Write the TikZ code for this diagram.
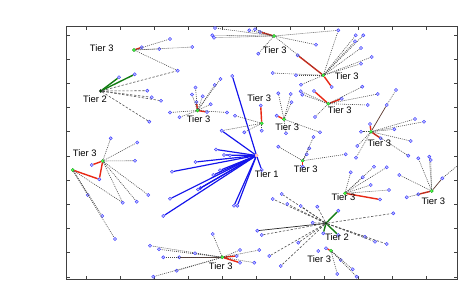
\documentclass[tikz,border=0pt]{standalone}
\usepackage{fontspec}
\setmainfont{Liberation Sans}
\usetikzlibrary{arrows}
\usetikzlibrary{shapes}
\usetikzlibrary{scopes}

\definecolor{tierred}{RGB}{232,40,20}
\definecolor{tiergreen}{RGB}{20,125,20}
\definecolor{tierblue}{RGB}{20,20,235}
\definecolor{tierdark}{RGB}{90,55,45}

\begin{document}
\begin{tikzpicture}[x=0.3mm,y=-0.3mm,
	pt/.style={circle,draw=blue!80,fill=blue!25,line width=0.35pt,inner sep=0pt,minimum size=2.8pt},
	hub/.style={circle,draw=green!55!black,fill=green!70,line width=0.2pt,inner sep=0pt,minimum size=2.8pt},
	hubtwo/.style={circle,draw=black!80,fill=green!30!black,line width=0.2pt,inner sep=0pt,minimum size=2.8pt},
	hubone/.style={circle,draw=red!45,fill=red!20,line width=0.2pt,inner sep=0pt,minimum size=3pt},
	lnk/.style={dash pattern=on 0.8pt off 0.9pt,black!72,line width=0.5pt},
	lnkd/.style={dash pattern=on 2pt off 1.4pt,black!70,line width=0.5pt},
	redl/.style={tierred,line width=1.2pt},
	grnl/.style={tiergreen,line width=1.2pt},
	bluel/.style={tierblue,line width=1pt},
	darkl/.style={tierdark,line width=0.6pt},
	axis/.style={black!75,line width=0.6pt},
	lbl/.style={inner sep=0pt,font=\fontsize{8}{9}\selectfont}]
	\useasboundingbox (0,0) rectangle (463,284);
	% axes box with inward ticks
	\draw[axis] (66,26) rectangle (457,279);
	\foreach \k in {0,...,10} {
		\draw[axis] ({86.5+34*\k},279) -- ++(0,-3.5) ({86.5+34*\k},26) -- ++(0,3.5);
		\draw[axis] (66,{35+24.2*\k}) -- ++(3.5,0) (457,{35+24.2*\k}) -- ++(-3.5,0);
	}

	% tier 3, top left
	\node[hub] (hA) at (134,50) {};
	\node[pt] (a0) at (141.7,47.3) {};
	\draw[redl] (hA) -- (a0);
	\foreach \px/\py [count=\i] in {170/39,159.3/49,192.3/47,177.7/70.7}
		{ \node[pt] (a\i) at (\px,\py) {}; \draw[lnk] (hA) -- (a\i); }
	\node[lbl] (tA) at (101.7,48.3) {Tier 3};

	% tier 2, left
	\node[hubtwo] (hB) at (100.7,91) {};
	\foreach \px/\py [count=\i] in {119/77.3,134.7/74.3}
		{ \node[pt] (bg\i) at (\px,\py) {}; \draw[grnl] (hB) -- (bg\i); }
	\foreach \px/\py [count=\i] in {147.3/90.7,151.7/97.3,161/100.7,149.3/121.7}
		{ \node[pt] (b\i) at (\px,\py) {}; \draw[lnkd] (hB) -- (b\i); }
	\draw[lnkd] (hB) -- (a4);
	\node[lbl] (tB) at (95,99.3) {Tier 2};

	% tier 3, middle left
	\node[hub] (hC) at (197.5,110.5) {};
	\node[pt] (cr1) at (196.5,102) {};
	\node[pt] (cr2) at (207,112) {};
	\draw[redl] (cr1) -- (hC) -- (cr2);
	\foreach \px/\py [count=\i] in {195.5/87.5,192/94.5,202.7/96.3,214.7/85,220.5/79,
			210.7/104.2,227/112.5,170/112.5,179.5/117.3}
		{ \node[pt] (c\i) at (\px,\py) {}; \draw[lnk] (hC) -- (c\i); }
	\node[lbl] (tC) at (198.6,119.2) {Tier 3};

	% tier 1
	\node[hubone] (hE) at (256.5,155.5) {};
	\foreach \px/\py [count=\i] in {232.3/76,221.7/130.7,216/149.5,224/155,230/155.5,
			195.5/162,172/171.7,220/170.3,213.3/175,200.5/188,198/189.5,170/198.8,
			163.3/216,234/205.8,237.3/205.8,261.7/170}
		{ \node[pt] (e\i) at (\px,\py) {}; \draw[bluel] (hE) -- (e\i); }
	\node[lbl] (tE) at (266.7,174.3) {Tier 1};

	% tier 3, next to tier 1
	\node[hub] (hD) at (261.7,123.3) {};
	\node[pt] (dr) at (260.7,105.5) {};
	\draw[redl] (hD) -- (dr);
	\foreach \px/\py [count=\i] in {235/115.7,244.3/132.3,261.7/130.7}
		{ \node[pt] (d\i) at (\px,\py) {}; \draw[lnk] (hD) -- (d\i); }
	\draw[lnk] (hD) -- (e2);
	\node[lbl] (tD) at (259.3,98) {Tier 3};

	% tier 3, far left
	\node[hub] (hF) at (102.7,161) {};
	\node[hub] (hFb) at (72.7,170) {};
	\node[pt] (fr1) at (91.7,165) {};
	\node[pt] (fr2) at (99.3,179.3) {};
	\draw[redl] (fr1) -- (hF) -- (fr2) -- (hFb);
	\foreach \px/\py [count=\i] in {110.7/138.3,137.3/142.5,135/160.7,148.3/195,136.7/201.7,122.7/202.7}
		{ \node[pt] (f\i) at (\px,\py) {}; \draw[lnk] (hF) -- (f\i); }
	\foreach \px/\py [count=\i] in {87.7/195,102.3/216,115/239}
		{ \node[pt] (fb\i) at (\px,\py) {}; \draw[lnk] (hFb) -- (fb\i); }
	\draw[lnk] (hFb) -- (f6);
	\node[lbl] (tF) at (84.7,153.3) {Tier 3};

	% tier 3, bottom
	\node[hub] (hG) at (222.3,257.3) {};
	\node[pt] (gr1) at (236.7,256) {};
	\node[pt] (gr2) at (240,262.7) {};
	\draw[redl] (hG) -- (gr1) (hG) -- (gr2);
	\node[pt] (gk) at (179.3,257.3) {};
	\draw[darkl] (hG) -- (gk);
	\foreach \px/\py [count=\i] in {150/245.7,159/249.3,163.3/257.3,212.7/234,176.7/270.7,
			153.3/276.7,195/253.3,240/250,259.3/250,254.3/262.7}
		{ \node[pt] (g\i) at (\px,\py) {}; \draw[lnk] (hG) -- (g\i); }
	\node[lbl] (tG) at (220.8,265.7) {Tier 3};

	% tier 3, top middle
	\node[hub] (hH) at (274,36) {};
	\node[pt] (hr) at (260,32) {};
	\draw[redl] (hH) -- (hr);
	\foreach \px/\py [count=\i] in {215/28,212.3/35.3,214/37.7,249.3/30.3,255/29.3,
			338.3/30.3,316/44.7,258.3/53.7}
		{ \node[pt] (h\i) at (\px,\py) {}; \draw[lnk] (hH) -- (h\i); }
	\node[lbl] (tH) at (274.7,50.3) {Tier 3};

	% tier 3, top right
	\node[hub] (hI) at (323.3,75.3) {};
	\node[pt] (ir1) at (297.7,55.3) {};
	\node[pt] (ir2) at (331.7,87) {};
	\draw[redl] (ir1) -- (hI) -- (ir2);
	\foreach \px/\py [count=\i] in {355.7/35.3,363.3/35.3,355/41.3,361/48,371.7/57,
			361/63.7,272.7/73,296/75.3,301/84.7}
		{ \node[pt] (i\i) at (\px,\py) {}; \draw[lnk] (hI) -- (i\i); }
	\draw[lnk] (hI) -- (hH) (hI) -- (h6);
	\node[lbl] (tI) at (346.7,76.3) {Tier 3};

	\node[hub] (hJ) at (328.3,103.7) {};
	\node[pt] (jr1) at (314,91) {};
	\node[pt] (jr2) at (341.7,98.7) {};
	\draw[redl] (jr1) -- (hJ) -- (jr2);
	\foreach \px/\py [count=\i] in {300.7/91.3,302.3/94.7,315/117,362.3/86.7,377.7/94,367.7/105}
		{ \node[pt] (j\i) at (\px,\py) {}; \draw[lnk] (hJ) -- (j\i); }
	\node[lbl] (tJ) at (339.7,110.3) {Tier 3};

	\node[hub] (hK) at (284,119.3) {};
	\node[pt] (kr) at (276.7,115.7) {};
	\draw[redl] (hK) -- (kr);
	\foreach \px/\py [count=\i] in {278.3/93.3,290.7/94,291.5/102.3,286/133.3,320/132.3}
		{ \node[pt] (k\i) at (\px,\py) {}; \draw[lnk] (hK) -- (k\i); }
	\node[lbl] (tK) at (287.2,126.7) {Tier 3};

	% tier 3, right side
	\node[hub] (hL) at (371,131.7) {};
	\node[pt] (lr1) at (370,124) {};
	\node[pt] (lr2) at (380.7,138.3) {};
	\draw[redl] (lr1) -- (hL) -- (lr2);
	\node[pt] (lk1) at (386.7,105) {};
	\node[pt] (lk2) at (396,90) {};
	\draw[darkl] (hL) -- (lk1);
	\draw[lnk] (lk1) -- (lk2);
	\foreach \px/\py [count=\i] in {361/131.7,415/119,424/121.7,394.3/129.3,410.7/141,
			408.3/155.7,357.3/146,356/157.7}
		{ \node[pt] (l\i) at (\px,\py) {}; \draw[lnk] (hL) -- (l\i); }
	\node[lbl] (tL) at (379.3,143.3) {Tier 3};

	\node[hub] (hM) at (302.7,160.7) {};
	\node[pt] (mr) at (302.7,166.7) {};
	\draw[redl] (hM) -- (mr);
	\foreach \px/\py [count=\i] in {278.3/146.7,309.3/148.3,306.7/154.3,345.7/154.3,313.5/137}
		{ \node[pt] (m\i) at (\px,\py) {}; \draw[lnk] (hM) -- (m\i); }
	\node[lbl] (tM) at (305.8,169.3) {Tier 3};

	\node[hub] (hN) at (345,193.3) {};
	\node[pt] (nr) at (380,199.5) {};
	\draw[redl] (hN) -- (nr);
	\foreach \px/\py [count=\i] in {350.7/172.3,374/166.7,386.7/167.3,362.7/177.3,370.7/185,389/190}
		{ \node[pt] (n\i) at (\px,\py) {}; \draw[lnk] (hN) -- (n\i); }
	\node[lbl] (tN) at (343.5,197.5) {Tier 3};

	\node[hub] (hO) at (431.7,191) {};
	\node[pt] (or) at (418.3,194.3) {};
	\draw[redl] (hO) -- (or);
	\node[pt] (ok) at (442.3,178.3) {};
	\coordinate (oz) at (457,166);
	\draw[darkl] (hO) -- (ok);
	\draw[lnk] (ok) -- (oz);
	\foreach \px/\py [count=\i] in {418.3/158.3,429.3/156.7,430.7/160,399.3/175,406.7/197.3}
		{ \node[pt] (o\i) at (\px,\py) {}; \draw[lnk] (hO) -- (o\i); }
	\node[lbl] (tO) at (433.3,200.7) {Tier 3};

	% tier 2, bottom right
	\node[hubtwo] (hP) at (326,223.3) {};
	\foreach \px/\py [count=\i] in {338.3/210.7,338.3/235,323.3/233.3}
		{ \node[pt] (pg\i) at (\px,\py) {}; \draw[grnl] (hP) -- (pg\i); }
	\node[pt] (pk) at (257.3,230.7) {};
	\draw[darkl,black!85] (hP) -- (pk);
	\foreach \px/\py [count=\i] in {281.7/194,272.7/199,287.3/204,300.7/206,317.3/206.7,
			393.3/213.3,261.7/235,312.7/222.7,298.3/242.7,365/236.7,375/241.7,386.7/244,
			280.7/266,269.3/256}
		{ \node[pt] (p\i) at (\px,\py) {}; \draw[lnkd] (hP) -- (p\i); }
	\node[lbl] (tP) at (337,237.3) {Tier 2};

	\node[hub] (hQ) at (331,250.7) {};
	\node[pt] (qr) at (326,248.3) {};
	\draw[redl] (hQ) -- (qr);
	\node[pt] (q0) at (318.3,251) {};
	\foreach \px/\py [count=\i] in {337.3/274,340.7/260,352.7/269.3,356.7/276.7}
		{ \node[pt] (q\i) at (\px,\py) {}; \draw[lnk] (hQ) -- (q\i); }
	\node[lbl] (tQ) at (319.3,259.3) {Tier 3};
\end{tikzpicture}
\end{document}
